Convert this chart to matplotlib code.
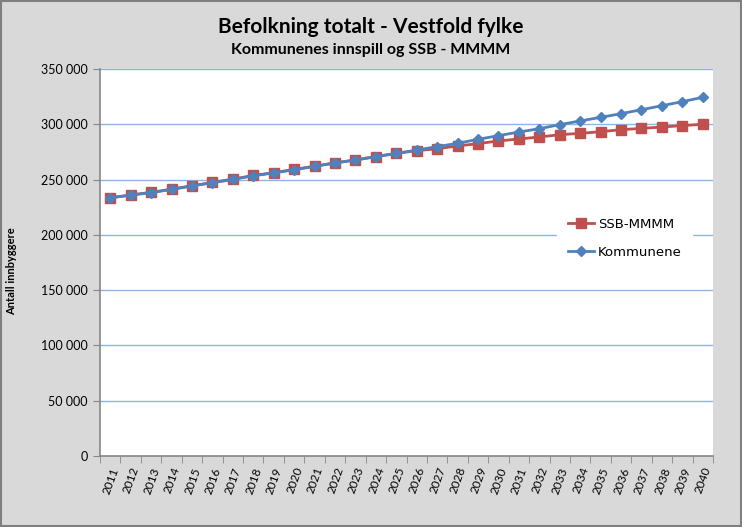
import matplotlib
matplotlib.use("Agg")
import matplotlib.pyplot as plt
from matplotlib.patches import Rectangle
from matplotlib.ticker import FuncFormatter, MultipleLocator, FixedLocator
import numpy as np

years = [str(y) for y in range(2011, 2041)]
ssb = [233.4, 236.0, 238.4, 241.3, 244.4, 247.4, 250.4, 253.7, 256.2, 259.2,
       262.1, 265.1, 267.8, 270.8, 273.7, 276.1, 277.9, 280.4, 282.5, 284.9,
       286.7, 288.5, 290.6, 291.8, 293.3, 295.1, 296.3, 297.5, 298.8, 300.0]
kommunene = [233.6, 236.0, 238.2, 241.1, 244.2, 247.1, 250.1, 253.4, 256.0, 258.8,
             261.9, 265.0, 267.6, 270.7, 273.7, 276.7, 279.8, 282.8, 286.4, 289.7,
             293.0, 296.0, 299.7, 303.0, 306.3, 309.6, 313.2, 316.8, 320.5, 324.4]
ssb = [v * 1000 for v in ssb]
kommunene = [v * 1000 for v in kommunene]

C_BG = "#d9d9d9"; C_RED = "#c0504d"; C_BLUE = "#4f81bd"; C_GRID = "#8eb4e3"
FONT = ["Lato", "DejaVu Sans"]

fig = plt.figure(figsize=(7.42, 5.27), dpi=100)
fig.patch.set_facecolor(C_BG)
fig.add_artist(Rectangle((0.001, 0.001), 0.997, 0.997, transform=fig.transFigure,
                         fill=False, ec="#7f7f7f", lw=1.5))

ax = fig.add_axes([100/742, 71/527, 613/742, 387/527])
ax.set_facecolor("white")
x = np.arange(len(years))

ax.plot(x, ssb, color=C_RED, lw=2.0, marker="s", ms=6.5, mec=C_RED, mfc=C_RED,
        label="SSB-MMMM", zorder=3)
ax.plot(x, kommunene, color=C_BLUE, lw=2.0, marker="D", ms=5.5, mec=C_BLUE, mfc=C_BLUE,
        label="Kommunene", zorder=4)

ax.set_xlim(-0.5, len(years) - 0.5)
ax.set_ylim(0, 350000)
ax.yaxis.set_major_locator(MultipleLocator(50000))
ax.yaxis.set_major_formatter(FuncFormatter(lambda v, p: f"{int(v):,}".replace(",", " ")))
ax.grid(axis="y", color=C_GRID, lw=1)
ax.set_axisbelow(True)

ax.set_xticks(x)
ax.set_xticklabels(years, rotation=70, ha="right", rotation_mode="anchor",
                   fontsize=8.5, family=FONT)
ax.xaxis.set_minor_locator(FixedLocator(np.arange(-0.5, len(years), 1)))
ax.tick_params(axis="x", which="major", length=0, pad=7)
ax.tick_params(axis="x", which="minor", length=5, color="#868686", direction="out")
ax.tick_params(axis="y", length=5, color="#868686", direction="out", labelsize=9, pad=4)
for lbl in ax.get_yticklabels():
    lbl.set_family(FONT)

for s in ["top", "right"]:
    ax.spines[s].set_visible(False)
for s in ["left", "bottom"]:
    ax.spines[s].set_color("#868686")
    ax.spines[s].set_linewidth(1.2)

fig.text(12/742, 1 - 271/527, "Antall innbyggere", rotation=90, ha="center", va="center",
         fontsize=8, fontweight="bold", family=FONT)

leg = ax.legend(loc="upper left", bbox_to_anchor=(0.735, 0.66), frameon=True,
                fancybox=False, edgecolor="white", facecolor="white", framealpha=1,
                handlelength=2.0, handletextpad=0.3,
                labelspacing=1.15, borderpad=0.8, prop={"family": "DejaVu Sans", "size": 9.5})

fig.text(0.5, 1 - 27/527, "Befolkning totalt - Vestfold fylke", ha="center", va="center",
         fontsize=15, fontweight="bold", family=FONT)
fig.text(0.5, 1 - 50/527, "Kommunenes innspill og SSB - MMMM", ha="center", va="center",
         fontsize=11.5, fontweight="bold", family=FONT)

fig.savefig("out.png", dpi=100, facecolor=C_BG)
